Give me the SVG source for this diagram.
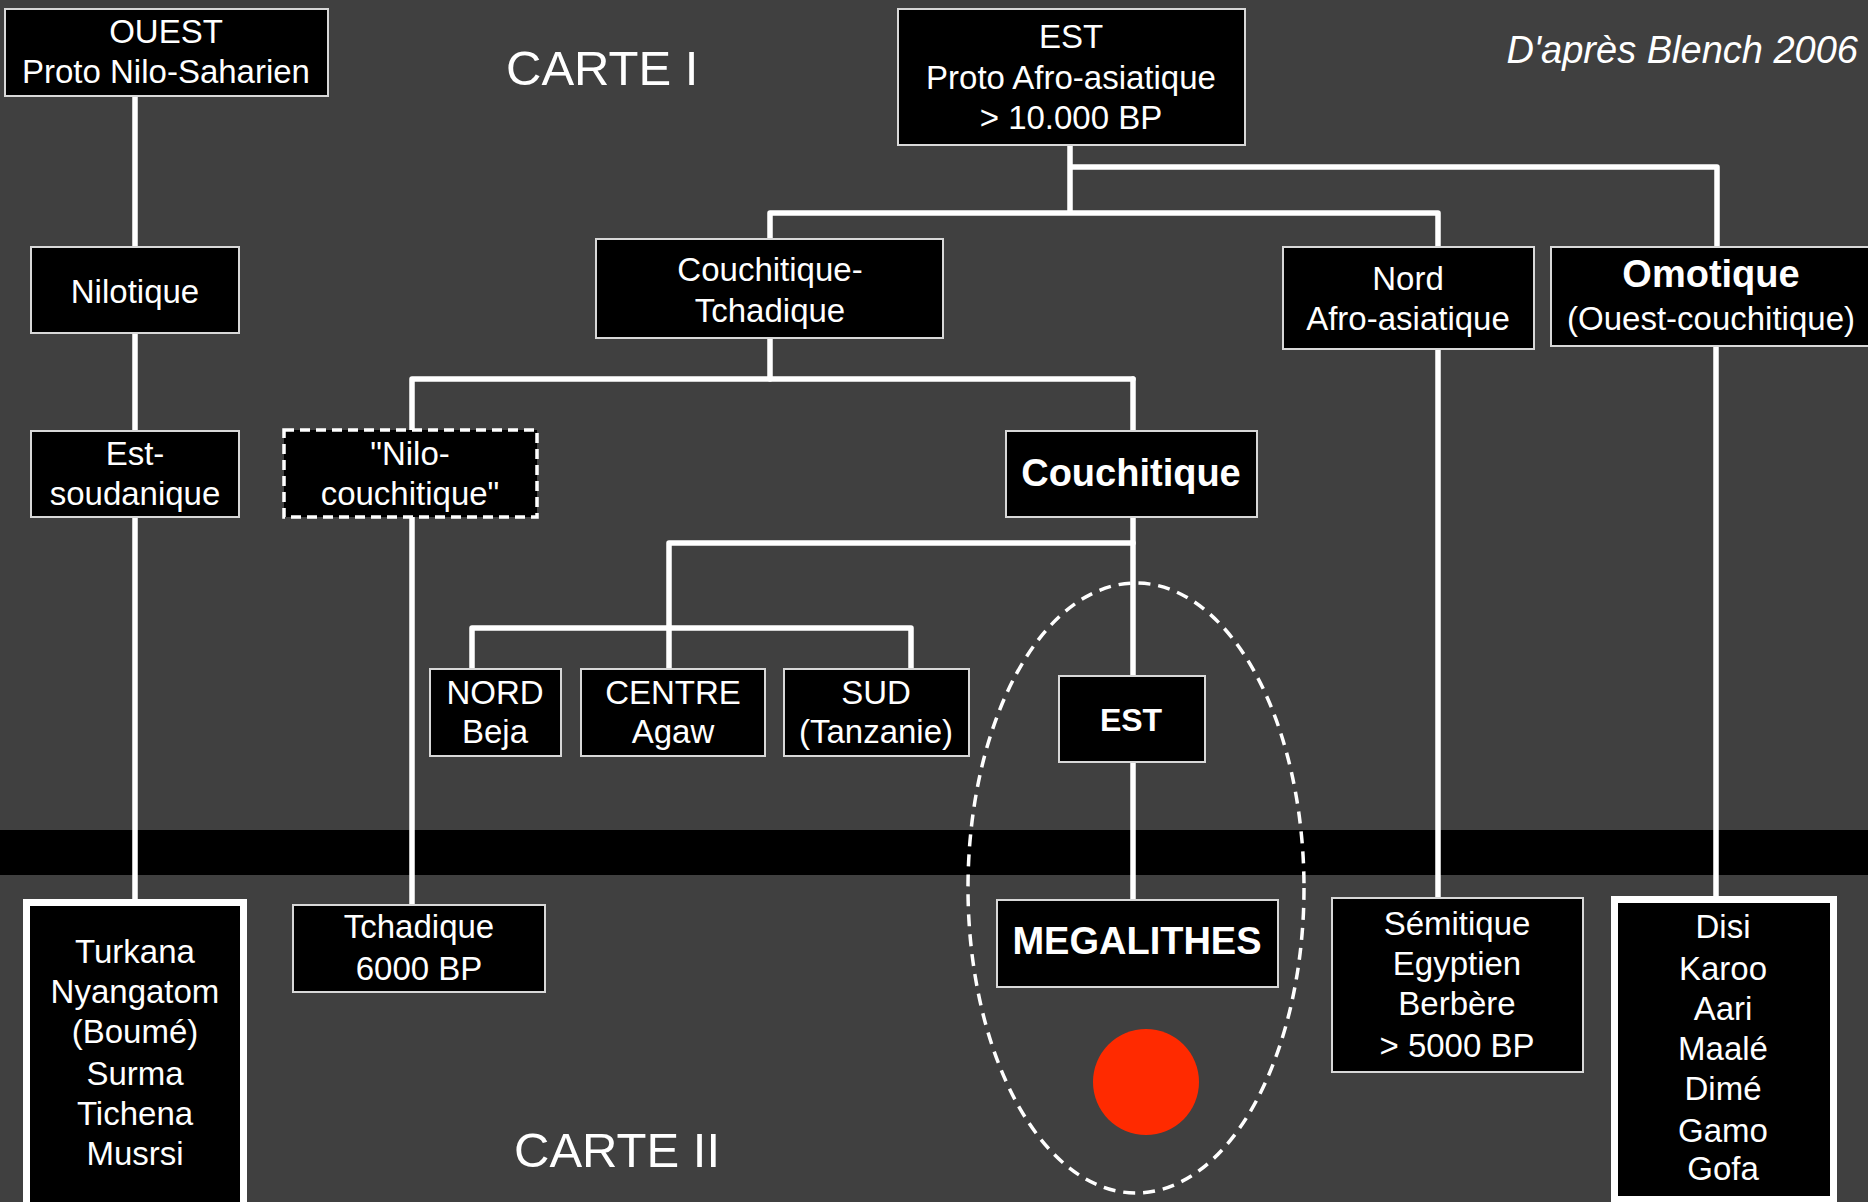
<svg xmlns="http://www.w3.org/2000/svg" width="1868" height="1202" viewBox="0 0 1868 1202">
<style>
.bx{fill:#000;stroke:#d8d8d8;stroke-width:2}
.thick{fill:#000;stroke:#fff;stroke-width:7}
.dash{fill:#000;stroke:#fff;stroke-width:3.5;stroke-dasharray:10 6}
.t{font-family:"Liberation Sans",Arial,sans-serif;font-size:33px;fill:#fff;text-anchor:middle}
.b{font-weight:bold;font-size:38px}
.title{font-family:"Liberation Sans",Arial,sans-serif;font-size:49px;fill:#fff}
.cn{stroke:#fff;stroke-width:5.5;fill:none;stroke-linecap:round;stroke-linejoin:round}
</style>
<rect x="0" y="0" width="1868" height="1202" fill="#404040"/>
<rect x="0" y="830" width="1868" height="45" fill="#000"/>
<text class="title" x="506" y="85">CARTE I</text>
<text class="title" x="514" y="1167">CARTE II</text>
<text x="1858" y="63" font-family="'Liberation Sans',Arial,sans-serif" font-size="38" font-style="italic" fill="#fff" text-anchor="end">D'après Blench 2006</text>
<g id="connectors" class="cn">
<path d="M135 96V247M135 333V431M135 517V899"/>
<path d="M412 379H1133M412 379V430M412 517V905"/>
<path d="M770 338V379M770 239V213H1438V247M1070 145V213M1070 167H1717V247"/>
<path d="M1438 349V898M1716 346V896"/>
<path d="M1133 379V431M1133 517V676M1133 762V900"/>
<path d="M669 543H1133M669 543V669M472 669V628H911V669"/>
</g>
<ellipse cx="1136" cy="888" rx="168" ry="305" fill="none" stroke="#fff" stroke-width="3.5" stroke-dasharray="12 8"/>
<circle cx="1146" cy="1082" r="53" fill="#ff2a00"/>
<g id="ouest"><rect class="bx" x="5" y="9" width="323" height="87"/><text class="t" x="166" y="43">OUEST</text><text class="t" x="166" y="83">Proto Nilo-Saharien</text></g>
<g id="est-root"><rect class="bx" x="898" y="9" width="347" height="136"/><text class="t" x="1071" y="48">EST</text><text class="t" x="1071" y="89">Proto Afro-asiatique</text><text class="t" x="1071" y="129">&gt; 10.000 BP</text></g>
<g id="nilotique"><rect class="bx" x="31" y="247" width="208" height="86"/><text class="t" x="135" y="303">Nilotique</text></g>
<g id="couch-tchad"><rect class="bx" x="596" y="239" width="347" height="99"/><text class="t" x="770" y="281">Couchitique-</text><text class="t" x="770" y="322">Tchadique</text></g>
<g id="nord"><rect class="bx" x="1283" y="247" width="251" height="102"/><text class="t" x="1408" y="290">Nord</text><text class="t" x="1408" y="330">Afro-asiatique</text></g>
<g id="omotique"><rect class="bx" x="1551" y="247" width="330" height="99"/><text class="t b" x="1711" y="287">Omotique</text><text class="t" x="1711" y="330">(Ouest-couchitique)</text></g>
<g id="est-soud"><rect class="bx" x="31" y="431" width="208" height="86"/><text class="t" x="135" y="465">Est-</text><text class="t" x="135" y="505">soudanique</text></g>
<g id="nilo-couch"><rect class="dash" x="284" y="430" width="253" height="87"/><text class="t" x="410" y="465">"Nilo-</text><text class="t" x="410" y="505">couchitique"</text></g>
<g id="couchitique"><rect class="bx" x="1006" y="431" width="251" height="86"/><text class="t b" x="1131" y="486">Couchitique</text></g>
<g id="nord-beja"><rect class="bx" x="430" y="669" width="131" height="87"/><text class="t" x="495" y="704">NORD</text><text class="t" x="495" y="743">Beja</text></g>
<g id="centre"><rect class="bx" x="581" y="669" width="184" height="87"/><text class="t" x="673" y="704">CENTRE</text><text class="t" x="673" y="743">Agaw</text></g>
<g id="sud"><rect class="bx" x="784" y="669" width="185" height="87"/><text class="t" x="876" y="704">SUD</text><text class="t" x="876" y="743">(Tanzanie)</text></g>
<g id="est-couch"><rect class="bx" x="1059" y="676" width="146" height="86"/><text class="t b" x="1131" y="731" style="font-size:32px">EST</text></g>
<g id="turkana"><rect class="thick" x="26.5" y="902.5" width="217" height="310"/><text class="t" x="135" y="963">Turkana</text><text class="t" x="135" y="1003">Nyangatom</text><text class="t" x="135" y="1043">(Boumé)</text><text class="t" x="135" y="1085">Surma</text><text class="t" x="135" y="1125">Tichena</text><text class="t" x="135" y="1165">Musrsi</text></g>
<g id="tchadique"><rect class="bx" x="293" y="905" width="252" height="87"/><text class="t" x="419" y="938">Tchadique</text><text class="t" x="419" y="980">6000 BP</text></g>
<g id="megalithes"><rect class="bx" x="997" y="900" width="281" height="87"/><text class="t b" x="1137" y="954">MEGALITHES</text></g>
<g id="semitique"><rect class="bx" x="1332" y="898" width="251" height="174"/><text class="t" x="1457" y="935">Sémitique</text><text class="t" x="1457" y="975">Egyptien</text><text class="t" x="1457" y="1015">Berbère</text><text class="t" x="1457" y="1057">&gt; 5000 BP</text></g>
<g id="omotic-langs"><rect class="thick" x="1614.5" y="899.5" width="219" height="300"/><text class="t" x="1723" y="938">Disi</text><text class="t" x="1723" y="980">Karoo</text><text class="t" x="1723" y="1020">Aari</text><text class="t" x="1723" y="1060">Maalé</text><text class="t" x="1723" y="1100">Dimé</text><text class="t" x="1723" y="1142">Gamo</text><text class="t" x="1723" y="1180">Gofa</text></g>
</svg>
